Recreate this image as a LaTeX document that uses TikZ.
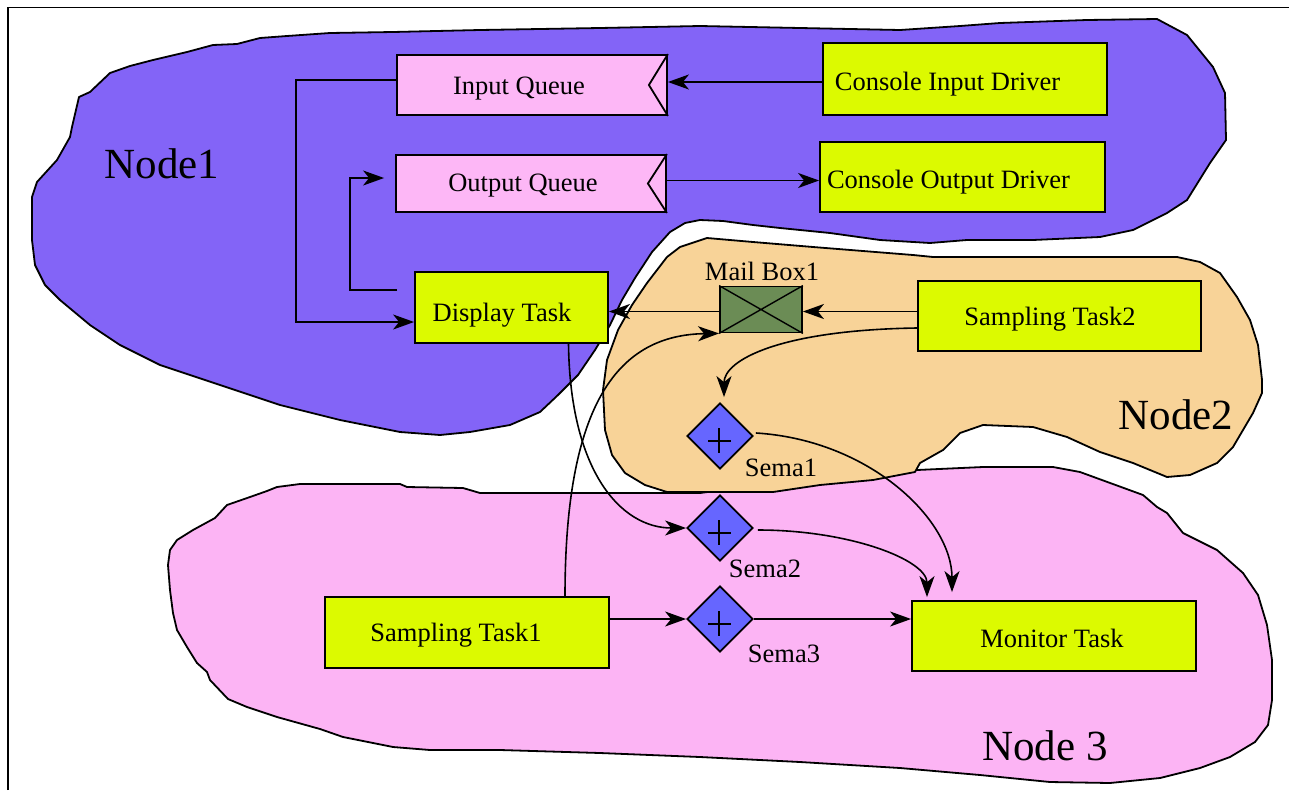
\documentclass[tikz,border=0pt]{standalone}
\usepackage{fontspec}
\setmainfont{Liberation Serif}
\usetikzlibrary{arrows.meta,shapes.geometric,calc}
\definecolor{npurple}{HTML}{8364F7}
\definecolor{norange}{HTML}{F8D398}
\definecolor{npink}{HTML}{FCB4F4}
\definecolor{qpink}{HTML}{FDB7F6}
\definecolor{ygreen}{HTML}{DCFA00}
\definecolor{mgreen}{HTML}{6B8C55}
\definecolor{dblue}{HTML}{6666FF}
\begin{document}
\begin{tikzpicture}[x=1pt,y=-1pt,
  blob/.style={draw, line width=1.8pt, line join=round},
  lbl/.style={font=\fontsize{26.5}{30}\selectfont, inner sep=0pt},
  big/.style={font=\fontsize{43}{48}\selectfont, inner sep=0pt},
  taskbox/.style={draw, line width=1.8pt, fill=ygreen, inner sep=0pt},
  queuebox/.style={draw, line width=1.8pt, fill=qpink, inner sep=0pt},
  sema/.style={diamond, draw, line width=1.8pt, fill=dblue, minimum width=66pt, minimum height=66pt, inner sep=0pt},
  arr/.style={line width=1.6pt, -{Stealth[length=21pt,width=15pt,inset=6pt]}}]
\useasboundingbox (0,0) rectangle (1289,790);
% frame
\draw[line width=1.6pt] (8,790) -- (8,7.5) -- (1289,7.5);

% Node1 (purple)
\path[blob, fill=npurple] (79,97) -- (90,92) -- (110,73) -- (130,66) -- (153,60) -- (187,52) -- (213,45) -- (237,44) -- (260,38) -- (287,36) -- (330,33) -- (393,32) -- (480,30) -- (600,28) -- (700,26) -- (800,28) -- (900,30) -- (960,26) -- (1000,23) -- (1087,20) -- (1157,19) -- (1187,35) -- (1213,67) -- (1225,93) -- (1226,140) -- (1210,163) -- (1187,200) -- (1167,213) -- (1133,230) -- (1100,237) -- (1033,240) -- (967,240) -- (930,243) -- (880,240) -- (830,233) -- (780,228) -- (753,225) -- (723,221) -- (700,220) -- (685,223) -- (670,232) -- (652,252) -- (635,278) -- (622,300) -- (610,325) -- (595,350) -- (578,375) -- (558,395) -- (540,412) -- (510,425) -- (470,432) -- (440,435) -- (400,432) -- (340,420) -- (280,405) -- (220,385) -- (160,365) -- (120,345) -- (90,325) -- (60,300) -- (45,285) -- (35,265) -- (32,240) -- (32,197) -- (37,182) -- (57,160) -- (70,137) -- (72,127) -- cycle;

% Node3 (pink)
\path[blob, fill=npink] (170,550) -- (177,540) -- (193,530) -- (215,518) -- (227,505) -- (250,497) -- (267,491) -- (277,487) -- (300,484) -- (400,484) -- (407,487) -- (463,488) -- (480,493) -- (700,493) -- (800,480) -- (917,470) -- (983,467) -- (1053,467) -- (1080,472) -- (1143,495) -- (1157,507) -- (1167,513) -- (1183,533) -- (1217,550) -- (1243,573) -- (1258,595) -- (1267,625) -- (1272,660) -- (1272,700) -- (1268,725) -- (1255,742) -- (1230,757) -- (1200,768) -- (1160,778) -- (1110,783) -- (1050,782) -- (980,775) -- (900,768) -- (800,762) -- (700,757) -- (600,753) -- (500,750) -- (430,750) -- (393,747) -- (343,737) -- (320,729) -- (277,717) -- (247,707) -- (228,699) -- (210,680) -- (207,672) -- (197,663) -- (187,647) -- (177,630) -- (173,613) -- (170,590) -- (168,565) -- cycle;

% Node2 (orange)
\path[blob, fill=norange] (647,283) -- (667,257) -- (680,247) -- (707,238) -- (753,242) -- (813,247) -- (913,255) -- (933,257) -- (1177,257) -- (1200,262) -- (1220,273) -- (1237,297) -- (1250,320) -- (1258,345) -- (1262,380) -- (1262,393) -- (1253,413) -- (1233,447) -- (1217,463) -- (1190,475) -- (1167,477) -- (1133,463) -- (1100,452) -- (1067,437) -- (1033,427) -- (983,425) -- (960,433) -- (943,450) -- (920,463) -- (915,472) -- (873,480) -- (820,485) -- (773,492) -- (667,492) -- (645,485) -- (625,473) -- (612,455) -- (605,430) -- (603,390) -- (607,360) -- (618,330) -- (632,305) -- cycle;

% region labels
\node[big] (n1) at (162,164) {Node1};
\node[big] (n2) at (1176,415) {Node2};
\node[big] (n3) at (1045,746) {Node 3};

% queues
\node[queuebox, minimum width=270pt, minimum height=60pt, label={[lbl,xshift=-13pt,yshift=-4pt]center:Input Queue}] (iq) at (532,85) {};
\draw[line width=1.8pt] (iq.north east) -- ($(iq.east)+(-19,0)$) -- (iq.south east);
\node[queuebox, minimum width=270pt, minimum height=57pt, label={[lbl,xshift=-8pt,yshift=-2pt]center:Output Queue}] (oq) at (531,183.5) {};
\draw[line width=1.8pt] (oq.north east) -- ($(oq.east)+(-19,0)$) -- (oq.south east);

% tasks
\node[taskbox, minimum width=284pt, minimum height=72pt, label={[lbl,xshift=-17.5pt,yshift=-5pt]center:Console Input Driver}] (cid) at (965,79) {};
\node[taskbox, minimum width=285pt, minimum height=70pt, label={[lbl,xshift=-14pt,yshift=-5pt]center:Console Output Driver}] (cod) at (962.5,177) {};
\node[taskbox, minimum width=193pt, minimum height=71pt, label={[lbl,xshift=-9.5pt,yshift=-8pt]center:Display Task}] (disp) at (511.5,307.5) {};
\node[taskbox, minimum width=283pt, minimum height=70pt, label={[lbl,xshift=-9.5pt,yshift=-3pt]center:Sampling Task2}] (st2) at (1059.5,316) {};
\node[taskbox, minimum width=284pt, minimum height=71pt, label={[lbl,xshift=-11pt,yshift=-3pt]center:Sampling Task1}] (st1) at (467,632.5) {};
\node[taskbox, minimum width=284pt, minimum height=70pt, label={[lbl,xshift=-2pt,yshift=-2pt]center:Monitor Task}] (mon) at (1054,636) {};

% mail box
\node[draw, line width=1.8pt, fill=mgreen, minimum width=82pt, minimum height=46pt, inner sep=0pt] (mb) at (761,309.5) {};
\draw[line width=1.4pt] (mb.north west) -- (mb.south east) (mb.south west) -- (mb.north east);
\node[lbl] (mbl) at (762,271) {Mail Box1};

% semaphores
\node[sema] (s1) at (720,436) {};
\node[sema] (s2) at (720,528) {};
\node[sema] (s3) at (720,619) {};
\foreach \s in {s1,s2,s3}{
  \draw[line width=1.6pt] ($(\s)+(-12,5)$) -- ($(\s)+(11,5)$) ($(\s)+(-1,-8)$) -- ($(\s)+(-1,17)$);
}
\node[lbl] (s1l) at (781,468) {Sema1};
\node[lbl] (s2l) at (765,569) {Sema2};
\node[lbl] (s3l) at (784,654) {Sema3};

% connectors
\draw[arr] ([yshift=-3pt]cid.west) -- ([yshift=-3pt]cid.west -| iq.east);
\draw[arr] ([yshift=5pt]iq.west) -- ++(-100,0) |- ([yshift=-14.5pt]disp.west);
\draw[arr] ([xshift=-17pt,yshift=17.5pt]disp.west) -- ++(-47,0) |- ([xshift=-11pt,yshift=5.5pt]oq.west);
\draw[arr] ([yshift=3pt]oq.east) -- ([yshift=3pt]oq.east -| cod.west);
\draw[arr] ([yshift=-2pt]st2.west |- mb.east) -- ([yshift=-2pt]mb.east);
\draw[arr] ([yshift=-2pt]mb.west) -- ([yshift=-2pt]mb.west -| disp.east);
\draw[arr] ([yshift=-12pt]st2.west) .. controls (780,330) and (724,360) .. ([xshift=4pt,yshift=5pt]s1.north);
\draw[arr] ([xshift=98pt]st1.north) .. controls (565,400) and (620,335) .. (mb.south west);
\draw[arr] ([xshift=57pt]disp.south) .. controls (570,470) and (620,528) .. (s2.west);
\draw[arr] ([xshift=2pt,yshift=3pt]s1.east) .. controls (870,440) and (952,520) .. ([xshift=-102pt,yshift=8pt]mon.north);
\draw[arr] ([xshift=4pt,yshift=-2pt]s2.east) .. controls (850,530) and (927,560) .. ([xshift=-127pt,yshift=3pt]mon.north);
\draw[arr] (st1.east |- s3.west) -- (s3.west);
\draw[arr] (s3.east) -- (s3.east -| mon.west);
\end{tikzpicture}
\end{document}
